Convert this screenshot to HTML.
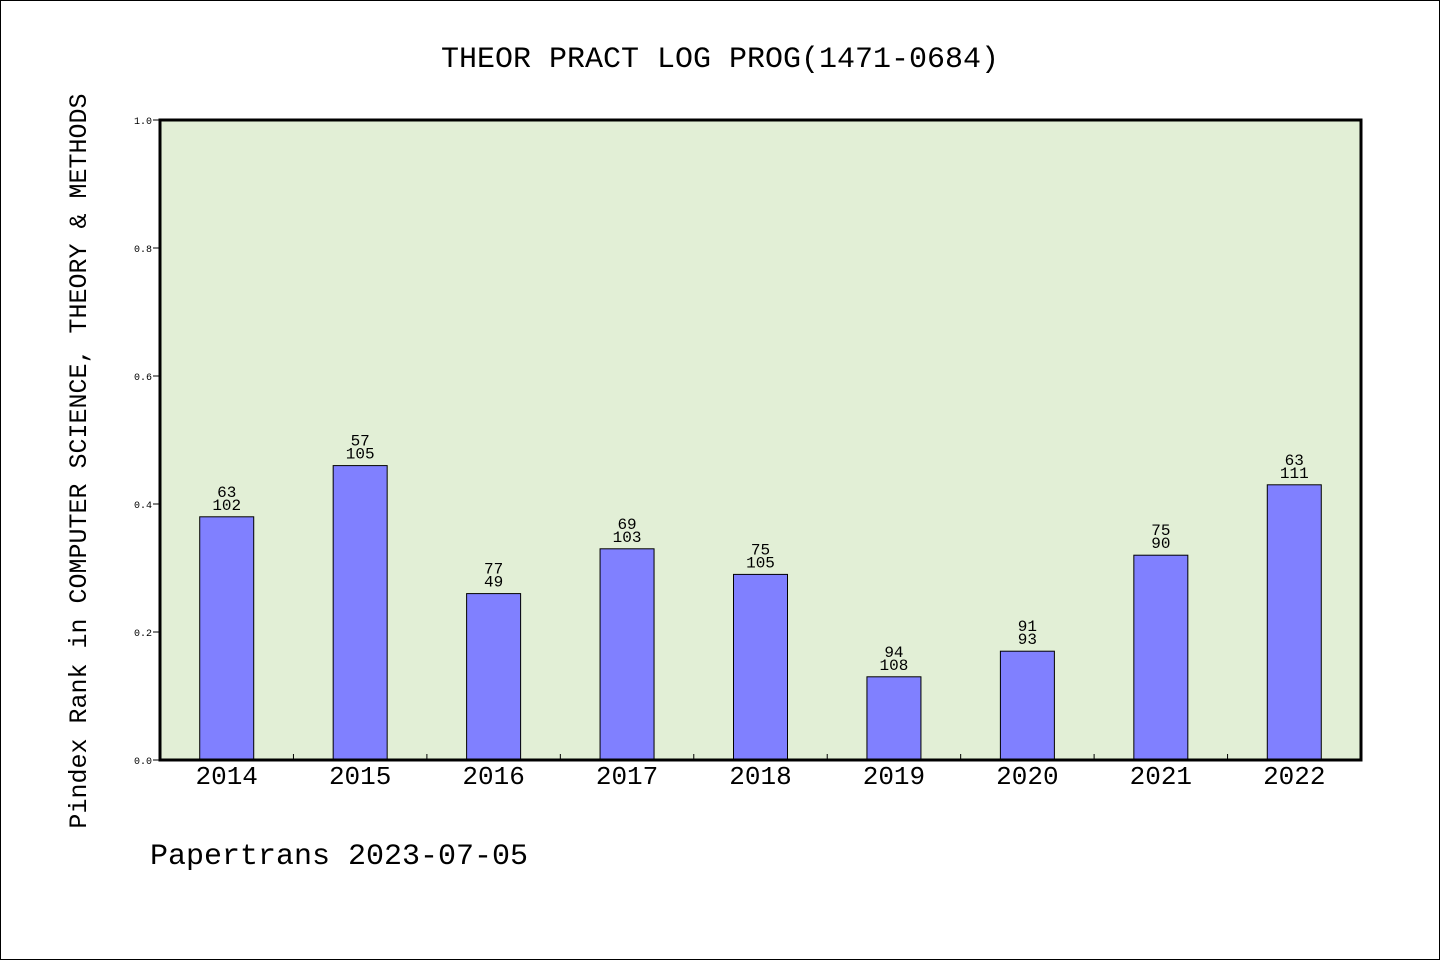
<!DOCTYPE html>
<html><head><meta charset="utf-8"><style>
html,body{margin:0;padding:0;background:#fff}
svg{display:block}
text{font-family:"Liberation Mono",monospace;fill:#000}
</style></head><body>
<svg id="chart" width="1440" height="960" viewBox="0 0 1440 960">
<rect x="0.5" y="0.5" width="1439" height="959" fill="#fff" stroke="#000"/>
<text x="720" y="67" font-size="30" text-anchor="middle">THEOR PRACT LOG PROG(1471-0684)</text>
<rect x="160" y="120" width="1201" height="640" fill="#e2efd6"/>
<g id="bars"></g>
<g id="axes"></g>
<rect x="160" y="120" width="1201" height="640" fill="none" stroke="#000" stroke-width="3"/>
<text transform="translate(86,461) rotate(-90)" font-size="25" text-anchor="middle">Pindex Rank in COMPUTER SCIENCE, THEORY &amp; METHODS</text>
<text x="150" y="864" font-size="30">Papertrans 2023-07-05</text>
</svg>
<script>
const years=["2014","2015","2016","2017","2018","2019","2020","2021","2022"];
const values=[0.38,0.46,0.26,0.33,0.29,0.13,0.17,0.32,0.43];
const topLabels=["63","57","77","69","75","94","91","75","63"];
const bottomLabels=["102","105","49","103","105","108","93","90","111"];
const yTicks=[0,0.2,0.4,0.6,0.8,1.0];
const X0=160,X1=1361,Y0=760,Y1=120;
const ns="http://www.w3.org/2000/svg";
const step=(X1-X0)/years.length;
const xC=i=>X0+step*(i+0.5);
function yPos(v){return Y0-v*(Y0-Y1);}
function mk(tag,attrs,parent){const e=document.createElementNS(ns,tag);for(const k in attrs)e.setAttribute(k,attrs[k]);parent.appendChild(e);return e;}
const bars=document.getElementById('bars'),axes=document.getElementById('axes');
years.forEach((y,i)=>{
  const cx=xC(i),w=54,top=yPos(values[i]);
  const r=mk('rect',{x:cx-w/2,y:top,width:w,height:Y0-top,fill:'#8080ff',stroke:'#000','stroke-width':1},bars);
  
  
  const t1=mk('text',{x:cx,y:top-20,'font-size':16,'text-anchor':'middle'},bars);t1.textContent=topLabels[i];
  
  
  const t2=mk('text',{x:cx,y:top-7,'font-size':16,'text-anchor':'middle'},bars);t2.textContent=bottomLabels[i];
  
  
  const xl=mk('text',{x:cx,y:784,'font-size':26,'text-anchor':'middle'},axes);xl.textContent=y;
  
  
  if(i>0){const tk=mk('line',{x1:X0+step*i,x2:X0+step*i,y1:Y0,y2:Y0-6,stroke:'#000'},axes);
  
  }
});
yTicks.forEach(v=>{
  const y=yPos(v);
  const l=mk('line',{x1:X0-7,x2:X0,y1:y,y2:y,stroke:'#000'},axes);
  
  
  const t=mk('text',{x:X0-8,y:y+4,'font-size':10,'text-anchor':'end'},axes);t.textContent=v.toFixed(1);
  
  
});
</script>
</body></html>
